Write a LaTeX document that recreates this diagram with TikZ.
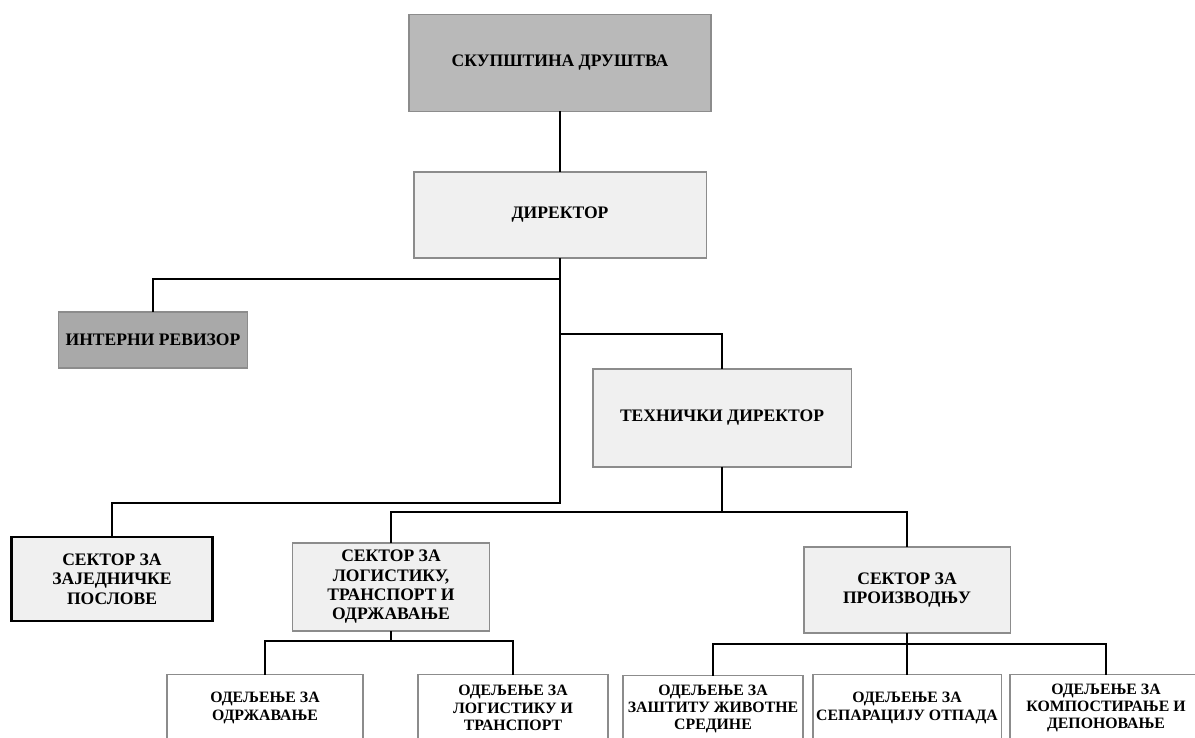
\documentclass[tikz,border=0pt]{standalone}
\usepackage{fontspec}
\setmainfont{Liberation Serif}
\usepackage{tikz}

\definecolor{boxgray}{HTML}{B9B9B9}
\definecolor{darkbox}{HTML}{A9A9A9}
\definecolor{lightbox}{HTML}{F0F0F0}
\definecolor{edgegray}{HTML}{8C8C8C}

\begin{document}
\begin{tikzpicture}[x=0.02cm,y=-0.02cm,
    unit/.style={draw=edgegray,line width=1.1pt,fill=lightbox,align=center,
      inner sep=0pt,outer sep=0pt,font=\fontsize{10}{11}\selectfont\bfseries},
    dept/.style={unit,fill=white,minimum height=1.34cm,
      font=\fontsize{9}{9.8}\selectfont\bfseries},
    link/.style={line width=0.9pt}]
    \useasboundingbox (0,0) rectangle (1195,737);
    % management
    \node[unit,fill=boxgray,minimum width=6.04cm,minimum height=1.94cm] (skup) at (560,63) {СКУПШТИНА ДРУШТВА};
    \node[unit,minimum width=5.86cm,minimum height=1.72cm] (dir) at (560,215) {ДИРЕКТОР};
    \node[unit,fill=darkbox,minimum width=3.78cm,minimum height=1.12cm] (rev) at (153,340) {ИНТЕРНИ РЕВИЗОР};
    \node[unit,minimum width=5.18cm,minimum height=1.96cm] (teh) at (722,418) {ТЕХНИЧКИ ДИРЕКТОР};
    % sectors
    \node[unit,draw=black,line width=1.6pt,minimum width=4.02cm,minimum height=1.68cm] (zaj) at (112,579) {СЕКТОР ЗА\\ЗАЈЕДНИЧКЕ\\ПОСЛОВЕ};
    \node[unit,minimum width=3.94cm,minimum height=1.76cm] (log) at (391,587) {СЕКТОР ЗА\\ЛОГИСТИКУ,\\ТРАНСПОРТ И\\ОДРЖАВАЊЕ};
    \node[unit,minimum width=4.14cm,minimum height=1.72cm] (pro) at (907,590) {СЕКТОР ЗА\\ПРОИЗВОДЊУ};
    % departments
    \node[dept,minimum width=3.92cm] (odr) at (265,708) {ОДЕЉЕЊЕ ЗА\\ОДРЖАВАЊЕ};
    \node[dept,minimum width=3.80cm] (ltr) at (513,708) {ОДЕЉЕЊЕ ЗА\\ЛОГИСТИКУ И\\ТРАНСПОРТ};
    \node[dept,minimum width=3.60cm] (zas) at (713,709) {ОДЕЉЕЊЕ ЗА\\ЗАШТИТУ ЖИВОТНЕ\\СРЕДИНЕ};
    \node[dept,minimum width=3.78cm] (sep) at (907,708) {ОДЕЉЕЊЕ ЗА\\СЕПАРАЦИЈУ ОТПАДА};
    \node[dept,minimum width=3.84cm] (kom) at (1106,708) {ОДЕЉЕЊЕ ЗА\\КОМПОСТИРАЊЕ И\\ДЕПОНОВАЊЕ};

    \coordinate (j1) at (560,279);
    \coordinate (j2) at (560,334);
    \coordinate (j3) at (560,503);
    \coordinate (j4) at (722,512);
    \coordinate (j5) at (391,641);
    \coordinate (j6) at (907,644);

    \draw[link] (skup) -- (dir);
    \draw[link] (dir.south) -- (j3) -| (zaj.north);
    \draw[link] (j1) -| (rev.north);
    \draw[link] (j2) -| (teh.north);
    \draw[link] (teh.south) -- (j4);
    \draw[link] (log.north) |- (j4) -| (pro.north);
    \draw[link] (log.south) -- (j5);
    \draw[link] (odr.north) |- (j5) -| (ltr.north);
    \draw[link] (pro.south) -- (sep.north);
    \draw[link] (zas.north) |- (j6) -| (kom.north);
\end{tikzpicture}
\end{document}
